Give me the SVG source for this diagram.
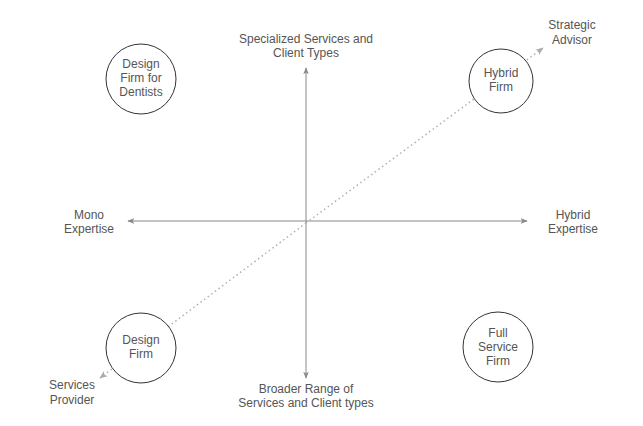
<svg xmlns="http://www.w3.org/2000/svg" width="643" height="426" viewBox="0 0 643 426">
<defs>
<marker id="ah" viewBox="0 0 10 10" refX="9" refY="5" markerWidth="7" markerHeight="7" orient="auto" markerUnits="userSpaceOnUse">
<path d="M0,1 L10,5 L0,9 L2.5,5 Z" fill="#888"/>
</marker>
<marker id="ahd" viewBox="0 0 10 10" refX="9" refY="5" markerWidth="8" markerHeight="8" orient="auto" markerUnits="userSpaceOnUse">
<path d="M0,1 L10,5 L0,9 L2.5,5 Z" fill="#aaa"/>
</marker>
</defs>
<style>
text{font-family:"Liberation Sans",Arial,Helvetica,sans-serif;font-size:12px;fill:#555;text-anchor:middle}
.axis{stroke:#888;stroke-width:1;fill:none}
.dot{stroke:#b0b0b0;stroke-width:1.5;stroke-dasharray:1.5,3;fill:none}
circle{fill:#fff;stroke:#333;stroke-width:1}
</style>
<rect width="643" height="426" fill="#fff"/>
<g id="connectors">
<line class="axis" x1="306" y1="221" x2="306" y2="68" marker-end="url(#ah)"/>
<line class="axis" x1="306" y1="221" x2="306" y2="378" marker-end="url(#ah)"/>
<line class="axis" x1="306" y1="221" x2="128" y2="221" marker-end="url(#ah)"/>
<line class="axis" x1="306" y1="221" x2="527" y2="221" marker-end="url(#ah)"/>
<line class="dot" x1="306" y1="223" x2="543" y2="48" marker-end="url(#ahd)"/>
<line class="dot" x1="306" y1="223" x2="100" y2="378" marker-end="url(#ahd)"/>
</g>
<g id="axis-top"><text x="306" y="43">Specialized Services and</text><text x="306" y="57">Client Types</text></g>
<g id="axis-bottom"><text x="306" y="393">Broader Range of</text><text x="306" y="407">Services and Client types</text></g>
<g id="axis-left"><text x="89" y="219">Mono</text><text x="89" y="233">Expertise</text></g>
<g id="axis-right"><text x="573" y="219">Hybrid</text><text x="573" y="233">Expertise</text></g>
<g id="strategic-advisor"><text x="572" y="29">Strategic</text><text x="572" y="44">Advisor</text></g>
<g id="services-provider"><text x="72" y="389">Services</text><text x="72" y="404">Provider</text></g>
<g id="design-firm-dentists"><circle cx="141" cy="79" r="35"/><text x="141" y="68">Design</text><text x="141" y="82">Firm for</text><text x="141" y="96">Dentists</text></g>
<g id="hybrid-firm"><circle cx="501" cy="81" r="32"/><text x="501" y="77">Hybrid</text><text x="501" y="91">Firm</text></g>
<g id="design-firm"><circle cx="141" cy="348" r="35"/><text x="141" y="344">Design</text><text x="141" y="358">Firm</text></g>
<g id="full-service-firm"><circle cx="498" cy="347" r="35"/><text x="498" y="337">Full</text><text x="498" y="351">Service</text><text x="498" y="365">Firm</text></g>
</svg>
